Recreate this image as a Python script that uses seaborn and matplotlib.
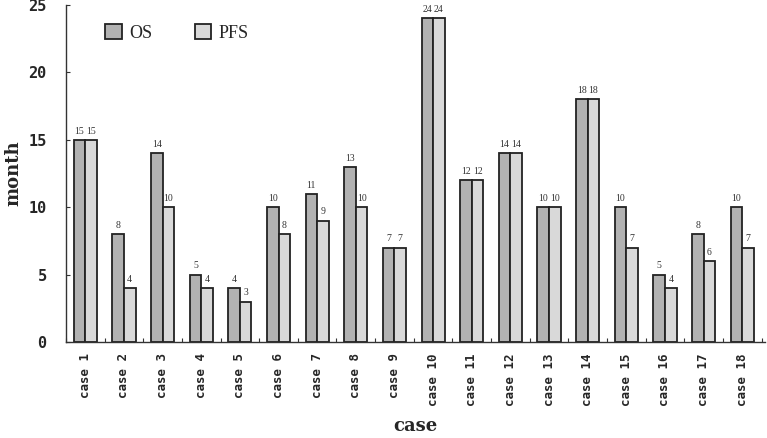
import pandas as pd
import matplotlib.pyplot as plt
import seaborn as sns

# values
cases = [f"case {i}" for i in range(1, 19)]
os_months = [15, 8, 14, 5, 4, 10, 11, 13, 7, 24, 12, 14, 10, 18, 10, 5, 8, 10]
pfs_months = [15, 4, 10, 4, 3, 8, 9, 10, 7, 24, 12, 14, 10, 18, 7, 4, 6, 7]
series = ["OS", "PFS"]

df = pd.DataFrame({
    "case": cases * 2,
    "month": os_months + pfs_months,
    "series": ["OS"] * len(cases) + ["PFS"] * len(cases),
})

sns.set_theme(style="white")
plt.rcParams["font.family"] = ["DejaVu Sans"]

fig = plt.figure(figsize=(7.67, 4.38), dpi=100)
ax = fig.add_axes([0.086, 0.219, 0.912, 0.770])

sns.barplot(
    data=df, x="case", y="month", hue="series",
    order=cases, hue_order=series,
    palette={"OS": "#b2b2b2", "PFS": "#d9d9d9"},
    edgecolor="#222222", linewidth=1.3,
    width=0.6, gap=0, errorbar=None, saturation=1, ax=ax,
)

for cont in ax.containers:
    ax.bar_label(cont, padding=3, fontsize=7, family="Liberation Serif", color="#333333")

ax.set_ylim(0, 25)
ax.set_xlim(-0.5, 17.6)
ax.set_yticks([0, 5, 10, 15, 20, 25])
ax.set_xticks([i + 0.5 for i in range(-1, 18)], minor=True)

mono = "DejaVu Sans Mono"
ax.set_yticklabels([0, 5, 10, 15, 20, 25], fontsize=11, fontweight="bold", family=mono)
ax.set_xticklabels(cases, rotation=90, fontsize=9, fontweight="bold", family=mono)
ax.tick_params(axis="x", which="major", length=0, pad=8)
ax.tick_params(axis="x", which="minor", direction="in", length=3, width=0.8, color="#333333", bottom=True)
ax.tick_params(axis="y", direction="in", length=3, width=0.8, color="#333333", left=True, pad=14)

ax.set_xlabel("case", fontsize=13, fontweight="bold", family="DejaVu Serif", labelpad=8)
ax.set_ylabel("month", fontsize=13, fontweight="bold", family="DejaVu Serif")
ax.yaxis.set_label_coords(-0.062, 0.5)

for side in ["top", "right"]:
    ax.spines[side].set_visible(False)
for side in ["left", "bottom"]:
    ax.spines[side].set_color("#333333")
    ax.spines[side].set_linewidth(1.0)

ax.legend(
    loc="upper left", bbox_to_anchor=(0.033, 0.99), ncol=2, frameon=False,
    columnspacing=2.4, handlelength=0.9, handleheight=0.9, handletextpad=0.4,
    prop={"family": "Liberation Serif", "size": 13},
)

fig.savefig("out.png", dpi=100)
